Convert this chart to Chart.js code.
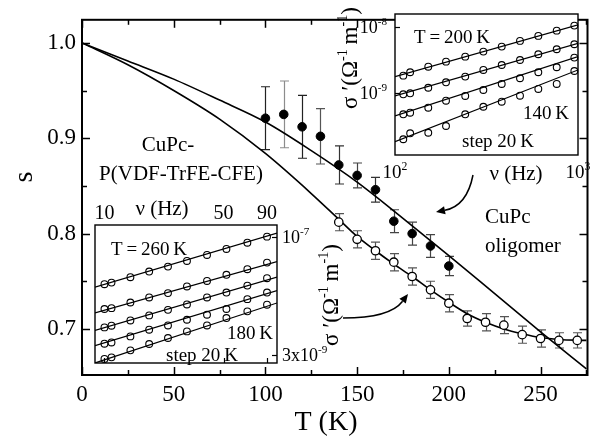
<!DOCTYPE html>
<html>
<head>
<meta charset="utf-8">
<script src="https://cdn.jsdelivr.net/npm/chart.js@4.4.0/dist/chart.umd.min.js"></script>
<style>
  html, body { margin: 0; padding: 0; background: #fff; }
  #wrap { position: relative; width: 593px; height: 440px; overflow: hidden; }
  #wrap canvas { position: absolute; }
</style>
</head>
<body>
<div id="wrap">
  <canvas id="main" width="593" height="440" style="left:0;top:0;width:593px;height:440px"></canvas>
  <canvas id="insetHigh" width="263" height="190" style="left:330px;top:0;width:263px;height:190px"></canvas>
  <canvas id="insetLow" width="270" height="180" style="left:80px;top:190px;width:270px;height:180px"></canvas>
</div>
<script>
var FONT = "'Liberation Serif', 'DejaVu Serif', serif";

// main panel: s against T
var tempFilled = [100, 110, 120, 130, 140, 150, 160, 170, 180, 190, 200];
var sFilled = [0.921, 0.925, 0.912, 0.902, 0.872, 0.861, 0.846, 0.813, 0.800, 0.787, 0.766];
var errFilled = [0.033, 0.035, 0.033, 0.029, 0.020, 0.013, 0.013, 0.012, 0.012, 0.012, 0.010];

var tempOpen = [140, 150, 160, 170, 180, 190, 200, 210, 220, 230, 240, 250, 260, 270];
var sOpen = [0.812, 0.794, 0.782, 0.770, 0.755, 0.741, 0.727, 0.711, 0.707, 0.704, 0.694, 0.690, 0.688, 0.688];
var errOpen = [0.009, 0.009, 0.009, 0.009, 0.009, 0.009, 0.009, 0.008, 0.009, 0.009, 0.009, 0.009, 0.008, 0.008];

var fitTempUpper = [0, 25, 50, 75, 100, 125, 150, 175, 200, 225, 250, 275];
var fitSUpper = [1.000, 0.981, 0.962, 0.940, 0.917, 0.887, 0.854, 0.816, 0.777, 0.737, 0.697, 0.658];
var fitTempLower = [0, 25, 50, 75, 100, 125, 140, 150, 160, 170, 180, 190, 200, 210, 220, 230, 240, 250, 260, 275];
var fitSLower = [1.000, 0.977, 0.950, 0.920, 0.884, 0.842, 0.815, 0.797, 0.782, 0.768, 0.755, 0.741, 0.728, 0.716, 0.707, 0.700, 0.695, 0.691, 0.689, 0.688];

var tempTicks = [0, 50, 100, 150, 200, 250];
var tempMinor = [25, 75, 125, 175, 225, 275];
var sTicks = [0.7, 0.8, 0.9, 1.0];
var sMinor = [0.75, 0.85, 0.95];

// upper inset: sigma' against nu, T = 200 ... 140 K
var freqHigh = [111, 121, 152, 190, 242, 304, 383, 482, 607, 765, 955];
var sigma200 = [1.83e-9, 2.06e-9, 2.50e-9, 2.98e-9, 3.55e-9, 4.23e-9, 5.04e-9, 6.14e-9, 7.31e-9, 8.79e-9, 1.047e-8];
var sigma180 = [9.55e-10, 9.89e-10, 1.20e-9, 1.45e-9, 1.77e-9, 2.23e-9, 2.65e-9, 3.16e-9, 3.86e-9, 4.59e-9, 5.47e-9];
var sigma160 = [4.75e-10, 5.03e-10, 5.98e-10, 7.64e-10, 9.01e-10, 1.11e-9, 1.37e-9, 1.67e-9, 2.06e-9, 2.45e-9, 3.43e-9];
var sigma140 = [1.99e-10, 2.45e-10, 2.50e-10, 3.16e-10, 4.75e-10, 6.19e-10, 7.38e-10, 9.10e-10, 1.15e-9, 1.37e-9, 2.15e-9];
var fitFreqHigh = [100, 1000];
var fit200 = [1.77e-9, 1.072e-8];
var fit180 = [9.0e-10, 5.66e-9];
var fit160 = [4.49e-10, 3.55e-9];
var fit140 = [1.83e-10, 2.23e-9];
var freqHighTicks = [100, 1000];
var freqHighLabels = [['10', '2'], ['10', '3']];
var sigmaHighTicks = [1e-9, 1e-8];
var sigmaHighLabels = [['10', '-9'], ['10', '-8']];

// lower inset: sigma' against nu, T = 260 ... 180 K
var freqLow = [10, 11, 14.2, 18.3, 23.6, 30.5, 40, 52, 69, 90];
var sigma260 = [2.45e-8, 2.57e-8, 3.02e-8, 3.57e-8, 4.14e-8, 4.90e-8, 5.86e-8, 7.00e-8, 8.44e-8, 1.01e-7];
var sigma240 = [1.17e-8, 1.20e-8, 1.42e-8, 1.65e-8, 1.88e-8, 2.29e-8, 2.70e-8, 3.24e-8, 3.83e-8, 4.66e-8];
var sigma220 = [6.76e-9, 7.11e-9, 8.32e-9, 9.66e-9, 1.14e-8, 1.34e-8, 1.65e-8, 1.91e-8, 2.35e-8, 2.93e-8];
var sigma200b = [4.16e-9, 4.32e-9, 5.17e-9, 6.31e-9, 7.16e-9, 8.49e-9, 9.86e-9, 1.17e-8, 1.57e-8, 1.91e-8];
var sigma180b = [2.64e-9, 2.77e-9, 3.41e-9, 4.12e-9, 4.93e-9, 6.00e-9, 7.16e-9, 8.93e-9, 1.09e-8, 1.33e-8];
var fitFreqLow = [8.8, 103];
var fit260 = [2.24e-8, 1.12e-7];
var fit240 = [1.04e-8, 4.80e-8];
var fit220 = [6.18e-9, 3.02e-8];
var fit200b = [3.93e-9, 2.03e-8];
var fit180b = [2.34e-9, 1.40e-8];
var freqLowTicks = [10, 50, 90];
var freqLowLabels = [['10'], ['50'], ['90']];
var sigmaLowTicks = [3e-9, 1e-7];
var sigmaLowLabels = [['3x10', '-9'], ['10', '-7']];

var SIGMA_TITLE = [['\u03c3 \u2032(\u03a9'], ['-1', 1], ['\u2009m'], ['-1', 1], [')']];

function pts(xs, ys) {
    return xs.map(function (x, i) { return { x: x, y: ys[i] }; });
}

// parts: [text, isSuperscript]
function drawRich(ctx, parts, x, y, size, align) {
    var w = 0;
    parts.forEach(function (p) {
        ctx.font = (p[1] ? size * 0.62 : size) + 'px ' + FONT;
        w += ctx.measureText(p[0]).width;
    });
    var cx = align === 'left' ? x : (align === 'right' ? x - w : x - w / 2);
    ctx.textAlign = 'left';
    ctx.textBaseline = 'alphabetic';
    ctx.fillStyle = '#000';
    parts.forEach(function (p) {
        ctx.font = (p[1] ? size * 0.62 : size) + 'px ' + FONT;
        ctx.fillText(p[0], cx, y + size * 0.33 - (p[1] ? size * 0.42 : 0));
        cx += ctx.measureText(p[0]).width;
    });
}

function makeTexts(items) {
    return {
        id: 'texts',
        afterDraw: function (chart) {
            var ctx = chart.ctx;
            items.forEach(function (it) {
                var parts = typeof it.text === 'string' ? [[it.text]] : it.text;
                ctx.save();
                if (it.rotate) {
                    ctx.translate(it.x, it.y);
                    ctx.rotate(-Math.PI / 2);
                    drawRich(ctx, parts, 0, 0, it.size, 'center');
                } else {
                    drawRich(ctx, parts, it.x, it.y, it.size, it.align || 'center');
                }
                ctx.restore();
            });
        }
    };
}

// frame round the plot area, inward ticks, optional tick labels with superscripts
function makeFrame(cfg) {
    return {
        id: 'frame',
        afterDatasetsDraw: function (chart) {
            var a = chart.chartArea, ctx = chart.ctx;
            ctx.save();
            ctx.strokeStyle = '#000';
            ctx.lineWidth = cfg.lineWidth;
            ctx.strokeRect(a.left, a.top, a.right - a.left, a.bottom - a.top);
            ctx.lineWidth = cfg.tickWidth;
            (cfg.marks || []).forEach(function (m) {
                var scale = chart.scales[m.scale];
                m.values.forEach(function (v) {
                    var p = Math.round(scale.getPixelForValue(v)) + 0.5;
                    m.edges.forEach(function (edge) {
                        ctx.beginPath();
                        if (edge === 'bottom') { ctx.moveTo(p, a.bottom); ctx.lineTo(p, a.bottom - m.len); }
                        if (edge === 'top') { ctx.moveTo(p, a.top); ctx.lineTo(p, a.top + m.len); }
                        if (edge === 'left') { ctx.moveTo(a.left, p); ctx.lineTo(a.left + m.len, p); }
                        if (edge === 'right') { ctx.moveTo(a.right, p); ctx.lineTo(a.right - m.len, p); }
                        ctx.stroke();
                    });
                });
            });
            (cfg.labels || []).forEach(function (l) {
                var scale = chart.scales[l.scale];
                l.values.forEach(function (v, i) {
                    var p = scale.getPixelForValue(v);
                    var parts = l.text[i].map(function (t, j) { return [t, j > 0]; });
                    if (l.scale === 'x') {
                        drawRich(ctx, parts, p, l.at, l.size, 'center');
                    } else {
                        drawRich(ctx, parts, l.at, p, l.size, l.align);
                    }
                });
            });
            ctx.restore();
        }
    };
}

var errorBars = {
    id: 'errorBars',
    beforeDatasetsDraw: function (chart) {
        var ctx = chart.ctx, yScale = chart.scales.y;
        chart.data.datasets.forEach(function (ds, di) {
            if (!ds.errors) {
                return;
            }
            var meta = chart.getDatasetMeta(di);
            ctx.save();
            ctx.lineWidth = 1.2;
            meta.data.forEach(function (pt, i) {
                var v = ds.data[i].y, e = ds.errors[i];
                var y1 = yScale.getPixelForValue(v + e), y2 = yScale.getPixelForValue(v - e);
                var x = Math.round(pt.x) + 0.5;
                ctx.strokeStyle = ds.errorColors ? ds.errorColors[i] : ds.errorColor;
                ctx.beginPath();
                ctx.moveTo(x, y1); ctx.lineTo(x, y2);
                ctx.moveTo(x - 4.5, y1); ctx.lineTo(x + 4.5, y1);
                ctx.moveTo(x - 4.5, y2); ctx.lineTo(x + 4.5, y2);
                ctx.stroke();
            });
            ctx.restore();
        });
    }
};

function makeArrows(list) {
    return {
        id: 'arrows',
        afterDraw: function (chart) {
            var ctx = chart.ctx;
            ctx.save();
            ctx.strokeStyle = '#000';
            ctx.fillStyle = '#000';
            ctx.lineWidth = 1.5;
            list.forEach(function (a) {
                var ang = Math.atan2(a.to[1] - a.ctrl[1], a.to[0] - a.ctrl[0]);
                var bx = a.to[0] - 9 * Math.cos(ang), by = a.to[1] - 9 * Math.sin(ang);
                ctx.beginPath();
                ctx.moveTo(a.from[0], a.from[1]);
                ctx.quadraticCurveTo(a.ctrl[0], a.ctrl[1], bx, by);
                ctx.stroke();
                ctx.beginPath();
                ctx.moveTo(a.to[0], a.to[1]);
                ctx.lineTo(bx + 4 * Math.sin(ang), by - 4 * Math.cos(ang));
                ctx.lineTo(bx - 4 * Math.sin(ang), by + 4 * Math.cos(ang));
                ctx.closePath();
                ctx.fill();
            });
            ctx.restore();
        }
    };
}

function hiddenAxis(extra) {
    var base = {
        grid: { display: false, drawTicks: false },
        border: { display: false },
        ticks: { display: false }
    };
    return Object.assign(base, extra);
}

// ---- main chart
new Chart(document.getElementById('main'), {
    type: 'scatter',
    data: {
        datasets: [{
            data: pts(tempFilled, sFilled),
            errors: errFilled,
            errorColors: ['#222', '#8c8c8c', '#222', '#555', '#333', '#444', '#333', '#444', '#444', '#444', '#444'],
            pointRadius: 4.3,
            pointBackgroundColor: '#000',
            pointBorderColor: '#000',
            pointBorderWidth: 1
        }, {
            data: pts(tempOpen, sOpen),
            errors: errOpen,
            errorColor: '#555',
            pointRadius: 4.2,
            pointBackgroundColor: '#fff',
            pointBorderColor: '#000',
            pointBorderWidth: 1.3
        }, {
            data: pts(fitTempUpper, fitSUpper),
            showLine: true,
            pointRadius: 0,
            borderColor: '#000',
            borderWidth: 1.6,
            cubicInterpolationMode: 'monotone'
        }, {
            data: pts(fitTempLower, fitSLower),
            showLine: true,
            pointRadius: 0,
            borderColor: '#000',
            borderWidth: 1.6,
            cubicInterpolationMode: 'monotone'
        }]
    },
    options: {
        responsive: false,
        animation: false,
        devicePixelRatio: 1,
        layout: { padding: { top: 5, right: 3, left: 0, bottom: 0 } },
        plugins: { legend: { display: false }, tooltip: { enabled: false } },
        scales: {
            x: {
                type: 'linear', min: 0, max: 275.6,
                grid: { display: false, drawTicks: false },
                border: { display: false },
                afterBuildTicks: function (s) { s.ticks = tempTicks.map(function (v) { return { value: v }; }); },
                afterFit: function (s) { s.height = 65; },
                ticks: {
                    padding: 6, color: '#000', maxRotation: 0, autoSkip: false,
                    font: { family: FONT, size: 23 },
                    callback: function (v) { return String(v); }
                }
            },
            y: {
                type: 'linear', min: 0.6517, max: 1.0242,
                grid: { display: false, drawTicks: false },
                border: { display: false },
                afterBuildTicks: function (s) { s.ticks = sTicks.map(function (v) { return { value: v }; }); },
                afterFit: function (s) { s.width = 82; },
                ticks: {
                    padding: 6, color: '#000', autoSkip: false,
                    font: { family: FONT, size: 23 },
                    callback: function (v) { return v.toFixed(1); }
                }
            }
        }
    },
    plugins: [
        errorBars,
        makeFrame({
            lineWidth: 2, tickWidth: 1.5,
            marks: [
                { scale: 'x', values: tempTicks, len: 8, edges: ['bottom', 'top'] },
                { scale: 'x', values: tempMinor, len: 5, edges: ['bottom', 'top'] },
                { scale: 'y', values: sTicks, len: 8, edges: ['left', 'right'] },
                { scale: 'y', values: sMinor, len: 5, edges: ['left', 'right'] }
            ]
        }),
        makeTexts([
            { text: 's', x: 23, y: 177, size: 28, rotate: true },
            { text: 'T (K)', x: 326, y: 421, size: 28 },
            { text: 'CuPc-', x: 168, y: 144, size: 21 },
            { text: 'P(VDF-TrFE-CFE)', x: 181, y: 173, size: 21 },
            { text: 'CuPc', x: 485, y: 216, size: 21, align: 'left' },
            { text: 'oligomer', x: 485, y: 245, size: 21, align: 'left' }
        ]),
        makeArrows([
            { from: [473, 175], ctrl: [467, 206], to: [436, 212] },
            { from: [343, 318], ctrl: [390, 318], to: [408, 294] }
        ])
    ]
});

// ---- inset charts
function insetDatasets(freq, rows, fitFreq, fits) {
    var sets = [];
    rows.forEach(function (r) {
        sets.push({
            data: pts(freq, r),
            pointRadius: 3.4,
            pointBackgroundColor: 'rgba(0,0,0,0)',
            pointBorderColor: '#000',
            pointBorderWidth: 1.1,
            clip: false
        });
    });
    fits.forEach(function (f) {
        sets.push({
            data: pts(fitFreq, f),
            showLine: true,
            pointRadius: 0,
            borderColor: '#000',
            borderWidth: 1.2
        });
    });
    return sets;
}

new Chart(document.getElementById('insetHigh'), {
    type: 'scatter',
    data: {
        datasets: insetDatasets(freqHigh, [sigma200, sigma180, sigma160, sigma140],
            fitFreqHigh, [fit200, fit180, fit160, fit140])
    },
    options: {
        responsive: false,
        animation: false,
        devicePixelRatio: 1,
        layout: { padding: { top: 14, right: 15, left: 0, bottom: 0 } },
        plugins: { legend: { display: false }, tooltip: { enabled: false } },
        scales: {
            x: hiddenAxis({ type: 'logarithmic', min: 100, max: 1000, afterFit: function (s) { s.height = 35; } }),
            y: hiddenAxis({ type: 'logarithmic', min: 1.15e-10, max: 1.57e-8, afterFit: function (s) { s.width = 65; } })
        }
    },
    plugins: [
        {
            id: 'whiteBox',
            beforeDatasetsDraw: function (chart) {
                var a = chart.chartArea;
                chart.ctx.fillStyle = '#fff';
                chart.ctx.fillRect(a.left, a.top, a.right - a.left, a.bottom - a.top);
            }
        },
        makeFrame({
            lineWidth: 1.4, tickWidth: 1.2,
            marks: [
                { scale: 'y', values: sigmaHighTicks, len: 5, edges: ['left'] }
            ],
            labels: [
                { scale: 'x', values: freqHighTicks, text: freqHighLabels, at: 172, size: 19 },
                { scale: 'y', values: sigmaHighTicks, text: sigmaHighLabels, at: 57, size: 18, align: 'right' }
            ]
        }),
        makeTexts([
            { text: SIGMA_TITLE, x: 19, y: 58, size: 23, rotate: true },
            { text: '\u03bd (Hz)', x: 186, y: 173, size: 21 },
            { text: 'T\u2009=\u2009200\u2009K', x: 84, y: 37, size: 19, align: 'left' },
            { text: '140\u2009K', x: 193, y: 113, size: 19, align: 'left' },
            { text: 'step 20\u2009K', x: 132, y: 141, size: 19, align: 'left' }
        ])
    ]
});

new Chart(document.getElementById('insetLow'), {
    type: 'scatter',
    data: {
        datasets: insetDatasets(freqLow, [sigma260, sigma240, sigma220, sigma200b, sigma180b],
            fitFreqLow, [fit260, fit240, fit220, fit200b, fit180b])
    },
    options: {
        responsive: false,
        animation: false,
        devicePixelRatio: 1,
        layout: { padding: { top: 0, right: 0, left: 15, bottom: 7 } },
        plugins: { legend: { display: false }, tooltip: { enabled: false } },
        scales: {
            x: hiddenAxis({ type: 'logarithmic', position: 'top', min: 8.8, max: 103, afterFit: function (s) { s.height = 35; } }),
            y: hiddenAxis({ type: 'logarithmic', position: 'right', min: 2.34e-9, max: 1.43e-7, afterFit: function (s) { s.width = 73; } })
        }
    },
    plugins: [
        {
            id: 'whiteBox',
            beforeDatasetsDraw: function (chart) {
                var a = chart.chartArea;
                chart.ctx.fillStyle = '#fff';
                chart.ctx.fillRect(a.left, a.top, a.right - a.left, a.bottom - a.top);
            }
        },
        makeFrame({
            lineWidth: 1.4, tickWidth: 1.2,
            marks: [
                { scale: 'x', values: freqLowTicks, len: 5, edges: ['bottom'] },
                { scale: 'y', values: sigmaLowTicks, len: 5, edges: ['right'] }
            ],
            labels: [
                { scale: 'x', values: freqLowTicks, text: freqLowLabels, at: 22, size: 20 },
                { scale: 'y', values: sigmaLowTicks, text: sigmaLowLabels, at: 202, size: 18, align: 'left' }
            ]
        }),
        makeTexts([
            { text: SIGMA_TITLE, x: 250, y: 105, size: 23, rotate: true },
            { text: '\u03bd (Hz)', x: 82, y: 18, size: 21 },
            { text: 'T\u2009=\u2009260\u2009K', x: 31, y: 59, size: 19, align: 'left' },
            { text: '180\u2009K', x: 147, y: 143, size: 19, align: 'left' },
            { text: 'step 20\u2009K', x: 86, y: 165, size: 19, align: 'left' }
        ])
    ]
});
</script>
</body>
</html>
